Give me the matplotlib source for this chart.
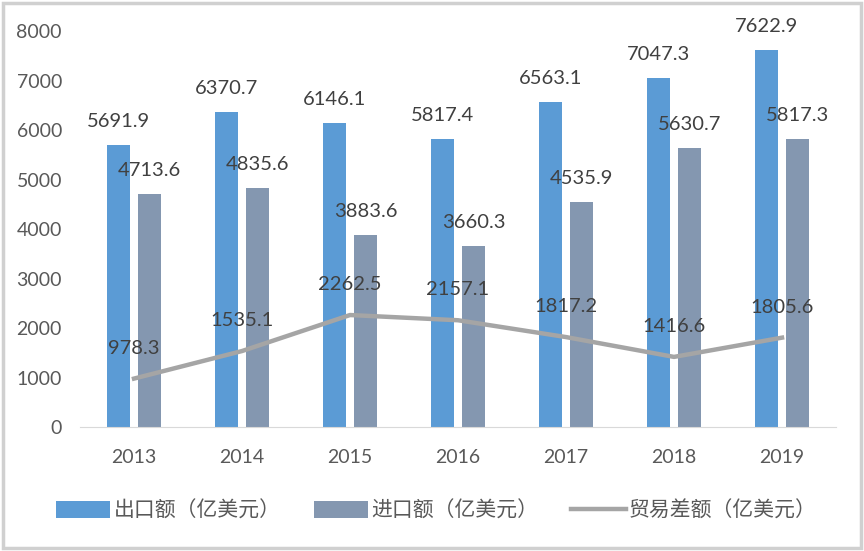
import numpy as np
import matplotlib
matplotlib.use('Agg')
import matplotlib.pyplot as plt
from matplotlib.patches import Rectangle

plt.rcParams['font.family'] = ['Lato', 'Noto Sans CJK SC', 'DejaVu Sans']

# 数据
years = ['2013', '2014', '2015', '2016', '2017', '2018', '2019']
exports = [5691.9, 6370.7, 6146.1, 5817.4, 6563.1, 7047.3, 7622.9]
imports = [4713.6, 4835.6, 3883.6, 3660.3, 4535.9, 5630.7, 5817.3]
balance = [978.3, 1535.1, 2262.5, 2157.1, 1817.2, 1416.6, 1805.6]
yticks = [0, 1000, 2000, 3000, 4000, 5000, 6000, 7000, 8000]

text_color = '#595959'
fig = plt.figure(figsize=(8.64, 5.51), dpi=100)
ax = fig.add_axes([0.0926, 0.225, 0.875, 0.7187])

x = np.arange(len(years))
w = 0.213
off = 0.144
b1 = ax.bar(x - off, exports, w, color='#5B9BD5', label='出口额（亿美元）', zorder=2)
b2 = ax.bar(x + off, imports, w, color='#8497B0', label='进口额（亿美元）', zorder=2)
ln, = ax.plot(x, balance, color='#A5A5A5', lw=3.2, label='贸易差额（亿美元）', zorder=3)

# 数据标签
for xi, v in zip(x - off, exports):
    ax.annotate(f'{v:.1f}', (xi, v), xytext=(0, 17), textcoords='offset points',
                ha='center', va='center', fontsize=14.5, color='#404040')
for xi, v in zip(x + off, imports):
    ax.annotate(f'{v:.1f}', (xi, v), xytext=(0, 17), textcoords='offset points',
                ha='center', va='center', fontsize=14.5, color='#404040')
for xi, v in zip(x, balance):
    ax.annotate(f'{v:.1f}', (xi, v), xytext=(0, 22), textcoords='offset points',
                ha='center', va='center', fontsize=14.5, color='#404040')

ax.set_xlim(-0.5, len(years) - 0.5)
ax.set_ylim(0, 8000)
ax.set_yticks(yticks)
ax.set_yticklabels([str(t) for t in yticks])
ax.set_xticks(x)
ax.set_xticklabels(years)
ax.tick_params(axis='both', length=0, labelsize=14, colors=text_color)
ax.tick_params(axis='x', pad=16)
ax.tick_params(axis='y', pad=13)
for s in ['top', 'right', 'left']:
    ax.spines[s].set_visible(False)
ax.spines['bottom'].set_color('#D9D9D9')

fig.legend(handles=[b1, b2, ln], loc='center', bbox_to_anchor=(0.505, 0.073), ncol=3,
           frameon=False, fontsize=15, labelcolor=text_color,
           handlelength=2.6, handleheight=0.9, handletextpad=0.15, columnspacing=1.6)

# 外框
fig.patches.append(Rectangle((0.004, 0.006), 0.992, 0.988, transform=fig.transFigure,
                             fill=False, edgecolor='#D0D0D0', lw=2.5))

fig.savefig('out.png', dpi=100)
